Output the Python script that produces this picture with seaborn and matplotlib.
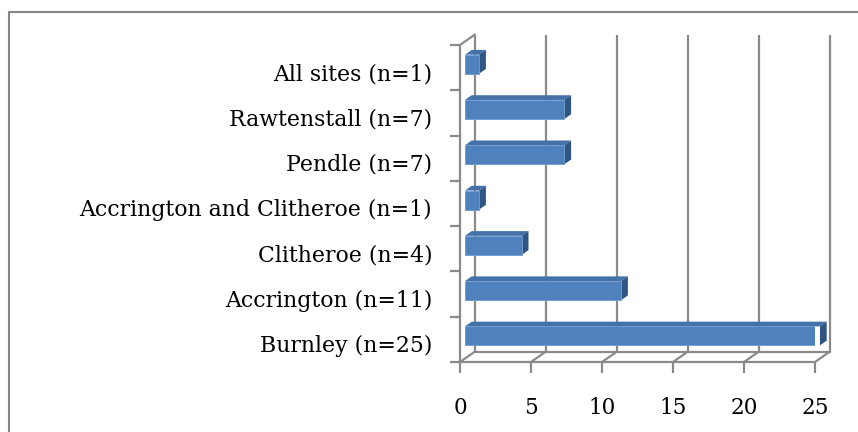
import matplotlib
matplotlib.use("Agg")
import matplotlib.pyplot as plt
import seaborn as sns
import pandas as pd
from matplotlib.patches import Polygon, Rectangle
from matplotlib.transforms import ScaledTranslation

sites = ["All sites (n=1)", "Rawtenstall (n=7)", "Pendle (n=7)",
         "Accrington and Clitheroe (n=1)", "Clitheroe (n=4)",
         "Accrington (n=11)", "Burnley (n=25)"]
counts = [1, 7, 7, 1, 4, 11, 25]
x_ticks = [0, 5, 10, 15, 20, 25]

df = pd.DataFrame({"site": sites, "count": counts})

sns.set_theme(style="white")
plt.rcParams["font.family"] = ["DejaVu Serif"]
plt.rcParams["text.color"] = "black"
plt.rcParams["xtick.color"] = "black"
plt.rcParams["ytick.color"] = "black"

W, H = 858, 432
fig = plt.figure(figsize=(W / 100, H / 100), dpi=100)

# front plane of the 3D box (pixels)
fx0, fx1 = 460, 815
fy_top, fy_bot = 45, 362
ax = fig.add_axes([fx0 / W, (H - fy_bot) / H, (fx1 - fx0) / W, (fy_bot - fy_top) / H])

front_c, top_c, side_c = "#4f81bd", "#4472a8", "#2f5683"
bar_w = 0.42
sns.barplot(data=df, x="count", y="site", orient="h", color=front_c,
            width=bar_w, saturation=1, ax=ax, zorder=3)
ax.set_xlim(0, 25)
ax.set_ylim(len(sites) - 0.5, -0.5)

# pixels per data unit
ppx = (fx1 - fx0) / 25.0
ppy = (fy_bot - fy_top) / len(sites)
# full depth vector (pixels right, pixels up)
DX, DY = 15.0, 10.5
ddx, ddy = DX / ppx, -DY / ppy
grid_c = "#8a8a8a"
lw = 1.6

n = len(sites)
y_lo, y_hi = n - 0.5, -0.5  # bottom, top in data coords
# back wall gridlines
for t in x_ticks:
    ax.plot([t + ddx, t + ddx], [y_lo + ddy, y_hi + ddy], color=grid_c, lw=lw,
            clip_on=False, zorder=1, solid_capstyle="butt")
# floor
ax.plot([0, 25], [y_lo, y_lo], color=grid_c, lw=lw, clip_on=False, zorder=1)
ax.plot([ddx, 25 + ddx], [y_lo + ddy, y_lo + ddy], color=grid_c, lw=lw, clip_on=False, zorder=1)
for t in x_ticks:
    ax.plot([t, t + ddx], [y_lo, y_lo + ddy], color=grid_c, lw=lw, clip_on=False, zorder=1)
# left wall
ax.plot([0, 0], [y_lo, y_hi], color=grid_c, lw=lw, clip_on=False, zorder=1)
ax.plot([0, ddx], [y_hi, y_hi + ddy], color=grid_c, lw=lw, clip_on=False, zorder=1)

# 3D bars: front face part way into the box, back face deeper
d1, d2 = 0.33, 0.78
shift = ScaledTranslation(DX * d1 / 100, DY * d1 / 100, fig.dpi_scale_trans)
for p in ax.patches:
    p.set_transform(ax.transData + shift)
    p.set_edgecolor("#6f9bd1")
    p.set_linewidth(0.6)
    x0, y0 = p.get_x(), p.get_y()
    w, h = p.get_width(), p.get_height()
    ytop, ybot = min(y0, y0 + h), max(y0, y0 + h)
    f = lambda x, y, d: (x + ddx * d, y + ddy * d)
    top = [f(x0, ytop, d1), f(x0 + w, ytop, d1), f(x0 + w, ytop, d2), f(x0, ytop, d2)]
    side = [f(x0 + w, ytop, d1), f(x0 + w, ytop, d2), f(x0 + w, ybot, d2), f(x0 + w, ybot, d1)]
    ax.add_patch(Polygon(top, closed=True, facecolor=top_c, edgecolor="none",
                         clip_on=False, zorder=2.9))
    ax.add_patch(Polygon(side, closed=True, facecolor=side_c, edgecolor="none",
                         clip_on=False, zorder=2.9))

for s in ax.spines.values():
    s.set_visible(False)
ax.set_xlabel("")
ax.set_ylabel("")
ax.set_xticks(x_ticks)
ax.set_xticklabels([str(t) for t in x_ticks], fontsize=15.5)
ax.tick_params(axis="x", bottom=True, length=8, width=lw, color=grid_c, pad=17,
               labelcolor="black")
ax.set_yticks(range(n))
ax.set_yticklabels(sites, fontsize=15.8)
ax.tick_params(axis="y", left=False, pad=14, labelcolor="black")
ax.set_yticks([i - 0.5 for i in range(n + 1)], minor=True)
ax.tick_params(axis="y", which="minor", left=True, length=7, width=lw, color=grid_c)
ax.patch.set_visible(False)
# category labels sit slightly below the band centres
down = ScaledTranslation(0, -0.04, fig.dpi_scale_trans)
for lab in ax.get_yticklabels():
    lab.set_transform(lab.get_transform() + down)

# chart area border
fig.add_artist(Rectangle((9 / W, -0.1), 1.2, (H - 12) / H + 0.1, transform=fig.transFigure,
                         fill=False, edgecolor="#868686", lw=1.5))

fig.savefig("out.png", dpi=100)
